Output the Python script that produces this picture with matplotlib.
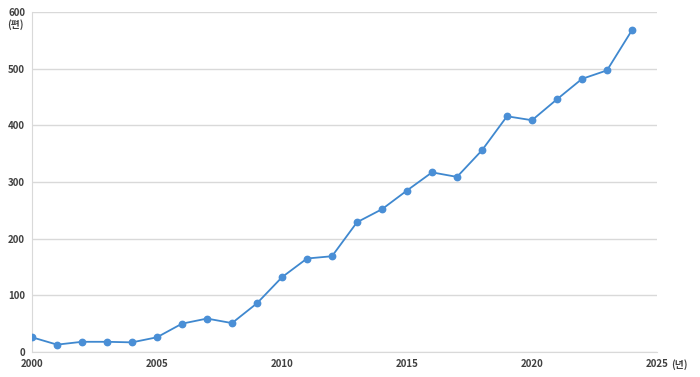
import matplotlib.pyplot as plt

plt.rcParams['font.family'] = ['Noto Sans CJK KR', 'DejaVu Sans']

# 연도별 편수
years = list(range(2000, 2025))
counts = [26, 13, 18, 18, 17, 26, 50, 59, 51, 86,
          132, 165, 169, 229, 252, 285, 317, 309, 356, 416,
          409, 446, 482, 497, 568]

x_ticks = [2000, 2005, 2010, 2015, 2020, 2025]
y_ticks = [0, 100, 200, 300, 400, 500, 600]

fig = plt.figure(figsize=(7, 3.77), dpi=100)
ax = fig.add_axes([32 / 700, 25 / 377, 625 / 700, 340 / 377])

ax.plot(years, counts, color='#3F88CF', lw=1.3, marker='o', ms=4.6,
        markerfacecolor='#4A8FD6', markeredgecolor='#4A8FD6', zorder=3)

ax.set_xlim(2000, 2025)
ax.set_ylim(0, 600)
ax.set_xticks(x_ticks)
ax.set_yticks(y_ticks)
ax.tick_params(length=0, labelsize=7, colors='#404040', pad=5)
for lab in ax.get_xticklabels() + ax.get_yticklabels():
    lab.set_fontweight('bold')

# 격자와 축선
ax.grid(axis='y', color='#D9D9D9', lw=1)
ax.set_axisbelow(True)
for side in ['top', 'right']:
    ax.spines[side].set_visible(False)
ax.spines['left'].set_color('#D9D9D9')
ax.spines['bottom'].set_color('#D9D9D9')

# 단위 표시
ax.annotate('(편)', xy=(2000, 600), xytext=(-6, -9), textcoords='offset points',
            ha='right', va='center', fontsize=7, fontweight='bold', color='#404040')
ax.annotate('(년)', xy=(2025, 0), xytext=(10, -9), textcoords='offset points',
            ha='left', va='center', fontsize=7, fontweight='bold', color='#404040')

fig.savefig('out.png')
